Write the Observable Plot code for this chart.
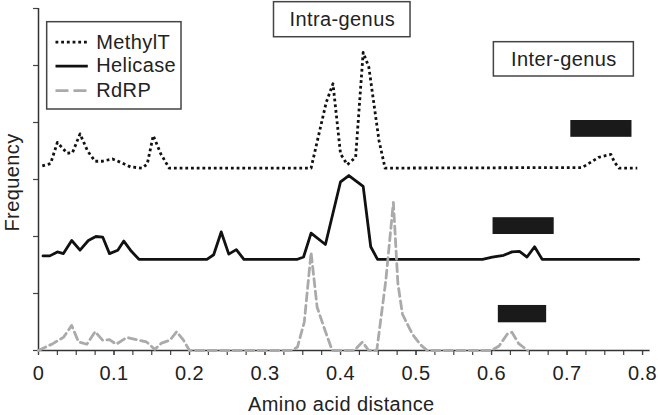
<!DOCTYPE html>
<html><head><meta charset="utf-8">
<script src="https://cdn.jsdelivr.net/npm/d3@7"></script>
<script src="https://cdn.jsdelivr.net/npm/@observablehq/plot@0.6"></script>
<style>
html,body{margin:0;padding:0;background:#fff;}
#chart svg text{letter-spacing:0.4px;}
</style>
</head><body><div id="chart"></div>
<script>
// ---- data (amino acid distance, frequency above each series' baseline) ----
const seriesNames = ["MethylT", "Helicase", "RdRP"];

const methylX = [0.005,0.016,0.025,0.038,0.045,0.055,0.065,0.075,0.084,0.098,0.109,0.122,0.137,0.144,0.152,0.162,0.173,
  0.361,0.381,0.390,0.400,0.409,0.420,0.430,0.4375,0.451,0.459,
  0.720,0.731,0.742,0.751,0.758,0.763,0.769,0.793];
const methylY = [0.04,0.08,0.45,0.26,0.27,0.60,0.30,0.12,0.12,0.16,0.10,0.02,0,0.07,0.57,0.25,0,
  0,1.15,1.48,0.25,0.06,0.19,2.03,1.77,0.48,0,
  0.01,0.10,0.19,0.22,0.24,0.10,0,0];

const helicaseX = [0.006,0.015,0.025,0.033,0.044,0.055,0.066,0.076,0.085,0.094,0.105,0.113,0.123,0.133,
  0.223,0.232,0.242,0.252,0.262,0.272,
  0.343,0.351,0.361,0.380,0.400,0.411,0.430,0.440,0.449,
  0.588,0.601,0.616,0.627,0.637,0.647,0.657,0.667,0.795];
const helicaseY = [0.06,0.06,0.13,0.10,0.33,0.16,0.33,0.40,0.39,0.10,0.16,0.32,0.14,0,
  0,0.08,0.48,0.09,0.17,0,
  0,0.04,0.46,0.26,1.36,1.47,1.28,0.22,0,
  0,0.04,0.07,0.13,0.14,0.04,0.22,0,0];

const rdrpX = [0,0.019,0.033,0.044,0.053,0.064,0.075,0.085,0.094,0.103,0.117,0.130,0.143,0.154,0.163,0.174,0.183,0.192,0.200,
  0.335,0.343,0.352,0.361,0.369,0.378,0.389,0.418,0.429,0.4375,0.448,0.460,0.470,0.476,0.482,0.495,0.506,0.515,
  0.600,0.610,0.621,0.627,0.636,0.648,0.797];
const rdrpY = [0,0.12,0.23,0.44,0.15,0.11,0.33,0.18,0.19,0.11,0.23,0.19,0.15,0.02,0.13,0.18,0.33,0.18,0,
  0,0.06,0.5,1.72,0.76,0.41,0,0,0.15,0,0,1.23,2.6,1.17,0.64,0.29,0.10,0,
  0,0.08,0.29,0.32,0.12,0];

// inter-genus distance ranges (black bars)
const rangeSeries = ["MethylT", "Helicase", "RdRP"];
const rangeStart = [0.705, 0.602, 0.609];
const rangeEnd = [0.786, 0.683, 0.673];

const xTickValues = [0,0.1,0.2,0.3,0.4,0.5,0.6,0.7,0.8];
const xTickLabels = ["0","0.1","0.2","0.3","0.4","0.5","0.6","0.7","0.8"];
const xMinorTicks = d3.range(0, 33).map(i => i * 0.025);
const yTickValues = [0,1,2,3,4,5,6];

const annotationLabels = ["Intra-genus", "Inter-genus"];

// ---- layout constants ----
const offset = {MethylT: 3.2, Helicase: 1.6, RdRP: 0};
const barLift = {MethylT: [0.54, 0.835], Helicase: [0.435, 0.73], RdRP: [0.486, 0.79]};
const annBoxes = [
  {label: annotationLabels[0], x1: 0.3119, x2: 0.4927, y1: 5.496, y2: 6.111, tx: 0.4023, ty: 5.81},
  {label: annotationLabels[1], x1: 0.6031, x2: 0.7885, y1: 4.807, y2: 5.409, tx: 0.6958, ty: 5.11}
];
const legendBox = {x1: 0.0115, x2: 0.1894, y1: 4.228, y2: 5.760};
const legendRows = [
  {name: seriesNames[0], y: 5.41, stroke: "#111", dash: "2.8 2.9"},
  {name: seriesNames[1], y: 4.99, stroke: "#111", dash: null},
  {name: seriesNames[2], y: 4.56, stroke: "#aaaaaa", dash: "13 5"}
];

const rows = (name, xs, ys) => xs.map((x, i) => ({series: name, x, y: ys[i] + offset[name]}));
const methylRows = rows("MethylT", methylX, methylY);
const helicaseRows = rows("Helicase", helicaseX, helicaseY);
const rdrpRows = rows("RdRP", rdrpX, rdrpY);
const bars = rangeSeries.map((s, i) => ({s, x1: rangeStart[i], x2: rangeEnd[i],
  y1: offset[s] + barLift[s][0], y2: offset[s] + barLift[s][1]}));

const font = "'Liberation Sans', Arial, Helvetica, sans-serif";

const chart = Plot.plot({
  width: 658, height: 415,
  marginLeft: 38, marginRight: 8.4, marginTop: 8, marginBottom: 65,
  x: {domain: [0, 0.81]},
  y: {domain: [0, 6]},
  style: {fontFamily: font, fontSize: "20px", background: "white", color: "#222"},
  marks: [
    Plot.axisX({ticks: xMinorTicks, tickSize: 5, tickFormat: () => "", stroke: "#444", strokeWidth: 1.2, label: null}),
    Plot.axisX({ticks: xTickValues, tickSize: 5, tickPadding: 10, tickFormat: d => xTickLabels[xTickValues.indexOf(d)],
      stroke: "#444", strokeWidth: 1.2, fill: "#222", label: null}),
    Plot.axisY({ticks: yTickValues, tickSize: 5, tickFormat: () => "", stroke: "#444", strokeWidth: 1.2, label: null}),
    Plot.ruleY([0], {stroke: "#333", strokeWidth: 1.5}),
    Plot.ruleX([0], {stroke: "#333", strokeWidth: 1.5}),
    Plot.line(methylRows, {x: "x", y: "y", stroke: "#111", strokeWidth: 2.8, strokeDasharray: "2.8 2.9", strokeLinecap: "butt"}),
    Plot.line(helicaseRows, {x: "x", y: "y", stroke: "#111", strokeWidth: 2.8}),
    Plot.line(rdrpRows, {x: "x", y: "y", stroke: "#aaaaaa", strokeWidth: 2.8, strokeDasharray: "8 4.5"}),
    Plot.rect(bars, {x1: "x1", x2: "x2", y1: "y1", y2: "y2", fill: "#1a1a1a"}),
    Plot.rect(annBoxes, {x1: "x1", x2: "x2", y1: "y1", y2: "y2", fill: "white", stroke: "#444", strokeWidth: 1.5}),
    Plot.text(annBoxes, {x: "tx", y: "ty", text: "label", fill: "#222", fontSize: 20, textAnchor: "middle", lineAnchor: "middle"}),
    Plot.rect([legendBox], {x1: "x1", x2: "x2", y1: "y1", y2: "y2", fill: "white", stroke: "#444", strokeWidth: 1.5}),
    ...legendRows.map(r => Plot.link([r], {x1: () => 0.0225, x2: () => 0.0653, y1: "y", y2: "y",
      stroke: r.stroke, strokeWidth: 2.8, strokeDasharray: r.dash})),
    Plot.text(legendRows, {x: () => 0.0764, y: "y", text: "name", fill: "#222", fontSize: 20, textAnchor: "start", lineAnchor: "middle"}),
    Plot.text(["Amino acid distance"], {frameAnchor: "bottom", dy: 54, dx: -3, textAnchor: "middle", lineAnchor: "middle", fill: "#222", fontSize: 20}),
    Plot.text(["Frequency"], {frameAnchor: "left", dx: -26, dy: 3, rotate: -90, textAnchor: "middle", lineAnchor: "middle", fill: "#222", fontSize: 20})
  ]
});
document.getElementById("chart").appendChild(chart);
</script>
</body></html>
